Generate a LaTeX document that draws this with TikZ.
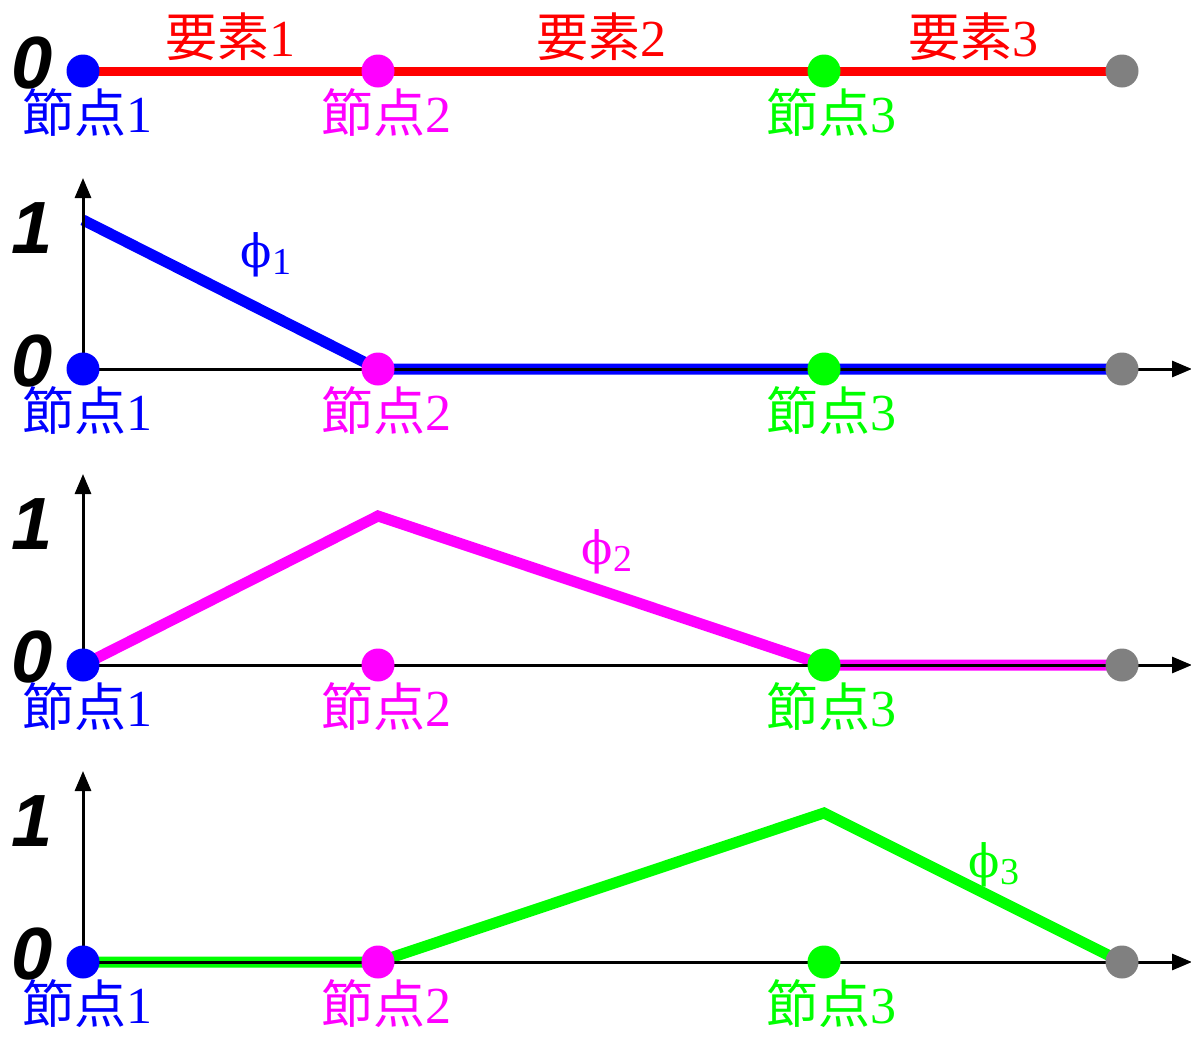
\documentclass[tikz,border=0pt]{standalone}
\usepackage{fontspec}
\setmainfont{Liberation Serif}
\newfontfamily\jpfont{Noto Sans CJK JP}
\newfontfamily\valfont{Liberation Sans}
\newfontfamily\phifont{DejaVu Serif}
\usetikzlibrary{positioning,arrows.meta}

\definecolor{pmag}{RGB}{255,0,255}
\definecolor{pgreen}{RGB}{0,255,0}
\definecolor{pgray}{RGB}{128,128,128}
\newcommand{\phisub}[1]{{\phifont ϕ}\raisebox{-0.3ex}{\fontsize{19}{20}\selectfont #1}}

\tikzset{
	nodedot/.style={circle,inner sep=0pt,minimum size=16.5pt},
	nodelbl/.style={inner sep=0pt,font=\fontsize{26}{28}\selectfont},
	elemlbl/.style={midway,above=3pt,inner sep=0pt,text=red,font=\fontsize{26}{28}\selectfont},
	vallbl/.style={inner sep=0pt,font=\valfont\bfseries\itshape\fontsize{37}{40}\selectfont},
	philbl/.style={inner sep=0pt,font=\fontsize{23}{26}\selectfont},
	funcline/.style={line width=5.5pt},
	axisline/.style={line width=1.5pt,-{Triangle[length=10pt,width=8pt]}}
}

\begin{document}
\begin{tikzpicture}[x=0.5pt,y=-0.5pt]
	\useasboundingbox (0,0) rectangle (1191,1040);
	% points of each row
	\foreach \p/\y in {1/71,2/369,3/665,4/962}{
		\coordinate (n1-\p) at (83,\y);
		\coordinate (n2-\p) at (378,\y);
		\coordinate (n3-\p) at (824,\y);
		\coordinate (n4-\p) at (1122,\y);
		\coordinate (one-\p) at (83,\y-149);
		\coordinate (ytop-\p) at (83,\y-191);
		\coordinate (xend-\p) at (1192,\y);
	}
	% elements
	\draw[red,line width=4.5pt] (n1-1) -- node[elemlbl] {{\jpfont 要素}1} (n2-1)
		-- node[elemlbl] {{\jpfont 要素}2} (n3-1) -- node[elemlbl] {{\jpfont 要素}3} (n4-1);
	% shape functions
	\draw[funcline,blue] (one-2) -- (n2-2) -- (n4-2);
	\draw[funcline,pmag] (n1-3) -- (n2-3 |- one-3) -- (n3-3) -- (n4-3);
	\draw[funcline,pgreen] (n1-4) -- (n2-4) -- (n3-4 |- one-4) -- (n4-4);
	\node[philbl,text=blue] (phi1) at (266,255) {\phisub{1}};
	\node[philbl,text=pmag] (phi2) at (607,552) {\phisub{2}};
	\node[philbl,text=pgreen] (phi3) at (994,865) {\phisub{3}};
	% axes
	\foreach \p in {2,3,4}{
		\draw[axisline] (n1-\p) -- (ytop-\p);
		\draw[axisline] (n1-\p) -- (xend-\p);
	}
	\node[vallbl] (v1-2) at (32,228) {1};
	\node[vallbl] (v1-3) at (32,524) {1};
	\node[vallbl] (v1-4) at (32,821) {1};
	% nodes
	\foreach \p/\y in {1/71,2/369,3/665,4/962}{
		\node[vallbl] (v0-\p) at (32,\y-8) {0};
		\node[nodedot,fill=blue] (d1-\p) at (n1-\p) {};
		\node[nodedot,fill=pmag] (d2-\p) at (n2-\p) {};
		\node[nodedot,fill=pgreen] (d3-\p) at (n3-\p) {};
		\node[nodedot,fill=pgray] (d4-\p) at (n4-\p) {};
		\node[nodelbl,text=blue,below=0pt of d1-\p,xshift=2.5pt] (l1-\p) {{\jpfont 節点}1};
		\node[nodelbl,text=pmag,below=0pt of d2-\p,xshift=4pt] (l2-\p) {{\jpfont 節点}2};
		\node[nodelbl,text=pgreen,below=0pt of d3-\p,xshift=3.5pt] (l3-\p) {{\jpfont 節点}3};
	}
\end{tikzpicture}
\end{document}
